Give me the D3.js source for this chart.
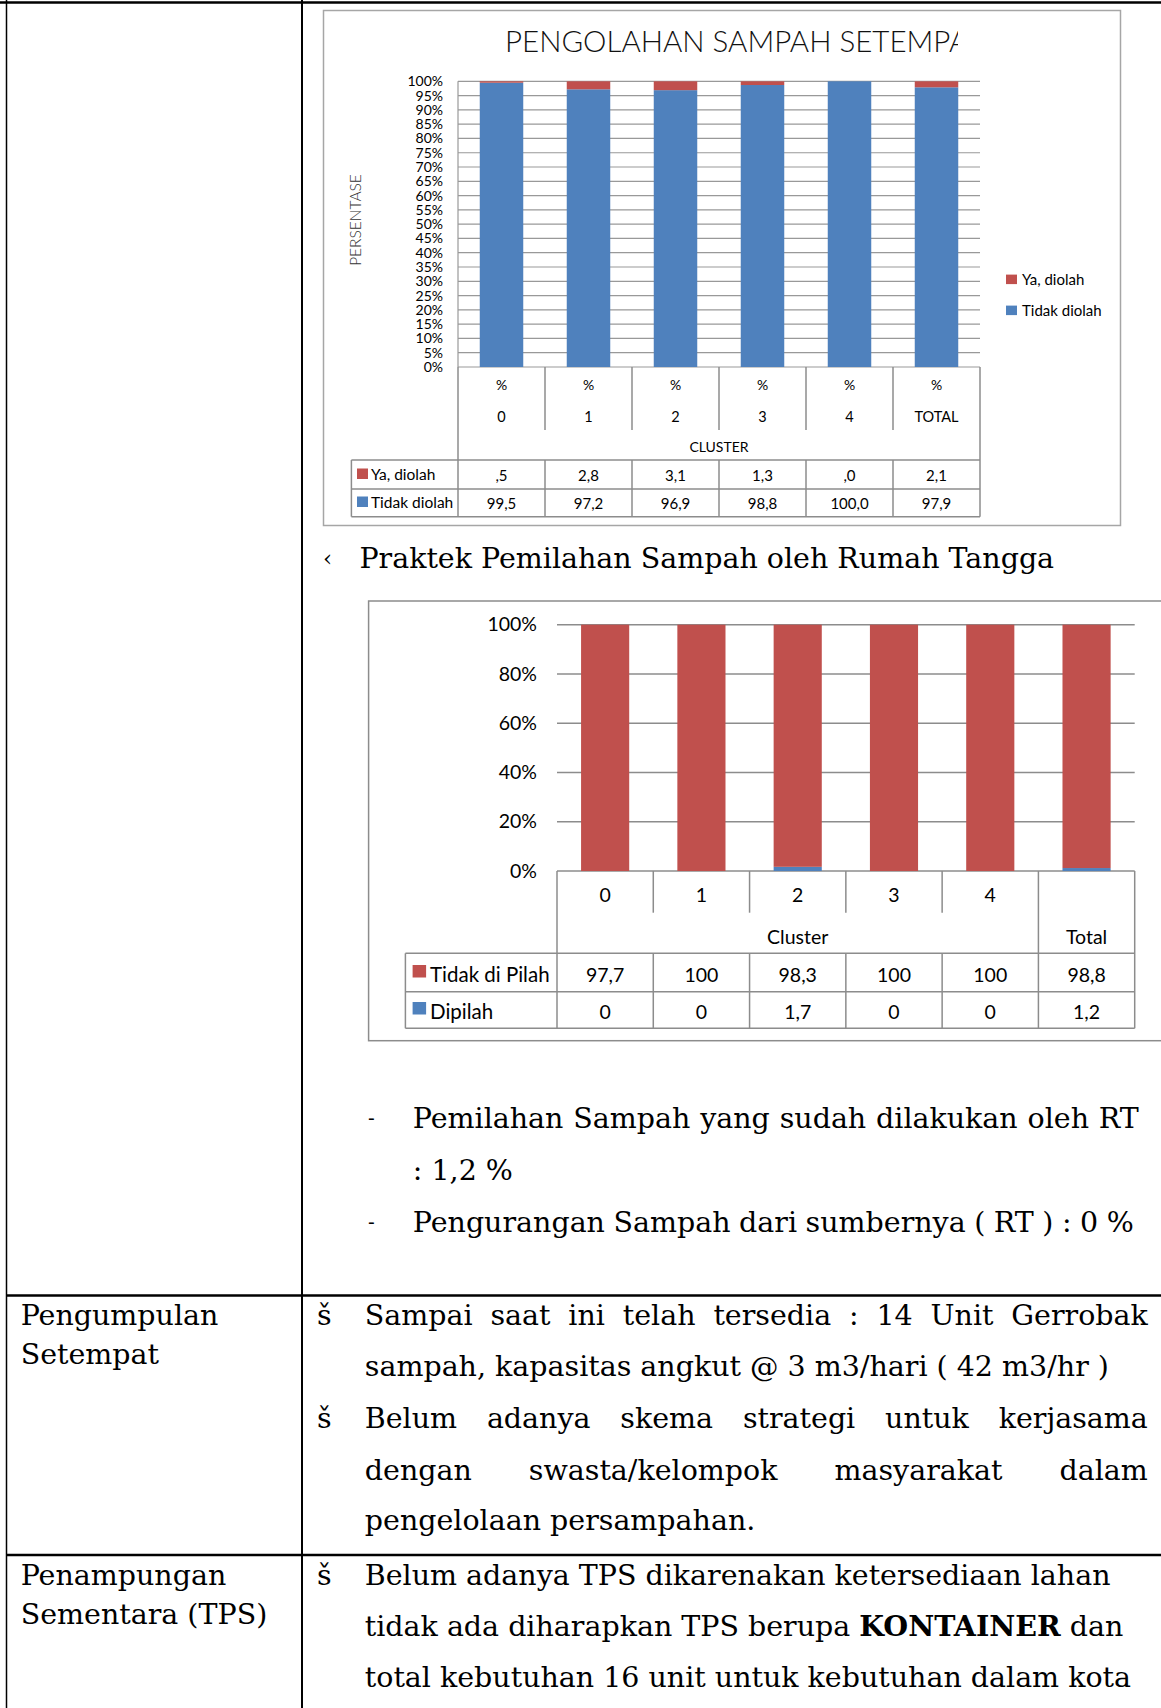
<!DOCTYPE html>
<html>
<head>
<meta charset="utf-8">
<script src="https://cdn.jsdelivr.net/npm/d3@7"></script>
<style>
body { margin: 0; background: #fff; }
svg { display: block; }
</style>
</head>
<body>
<div id="page"></div>
<script>
// chart 1 : pengolahan sampah setempat
var clusters1 = ["0", "1", "2", "3", "4", "TOTAL"];
var yaDiolah = [0.5, 2.8, 3.1, 1.3, 0.0, 2.1];
var tidakDiolah = [99.5, 97.2, 96.9, 98.8, 100.0, 97.9];
var ticks1 = [0, 5, 10, 15, 20, 25, 30, 35, 40, 45, 50, 55, 60, 65, 70, 75, 80, 85, 90, 95, 100];

// chart 2 : praktek pemilahan sampah
var clusters2 = ["0", "1", "2", "3", "4", "Total"];
var tidakDiPilah = [97.7, 100, 98.3, 100, 100, 98.8];
var dipilah = [0, 0, 1.7, 0, 0, 1.2];
var ticks2 = [0, 20, 40, 60, 80, 100];

var red = "#C0504D", blue = "#4F81BD";
var chartFont = "Lato, 'Open Sans', sans-serif";
var bodyFont = "'DejaVu Serif', 'Liberation Serif', serif";

var svg = d3.select("#page").append("svg")
    .attr("width", 1161)
    .attr("height", 1708);

svg.append("rect").attr("width", 1161).attr("height", 1708).attr("fill", "#fff");

function fmt1(v) {
  return v.toFixed(1).replace(".", ",").replace(/^0,/, ",");
}
function fmt2(v) {
  return String(v).replace(".", ",");
}

// ---------- document table lines ----------
var tline = svg.append("g").attr("stroke", "#000");
tline.append("line").attr("x1", 0).attr("y1", 2.5).attr("x2", 1161).attr("y2", 2.5).attr("stroke-width", 2.5);
tline.append("line").attr("x1", 6.5).attr("y1", 0).attr("x2", 6.5).attr("y2", 1708).attr("stroke-width", 1.5);
tline.append("line").attr("x1", 302).attr("y1", 0).attr("x2", 302).attr("y2", 1708).attr("stroke-width", 2);
tline.append("line").attr("x1", 6).attr("y1", 1295.5).attr("x2", 1161).attr("y2", 1295.5).attr("stroke-width", 2.5);
tline.append("line").attr("x1", 6).attr("y1", 1555).attr("x2", 1161).attr("y2", 1555).attr("stroke-width", 2.5);

// ---------- chart 1 ----------
var c1 = svg.append("g");
c1.append("rect")
  .attr("x", 323.5).attr("y", 10.5).attr("width", 797).attr("height", 515)
  .attr("fill", "#fff").attr("stroke", "#a6a6a6").attr("stroke-width", 1.5);

c1.append("clipPath").attr("id", "titleclip")
  .append("rect").attr("x", 323).attr("y", 10).attr("width", 635).attr("height", 60);
c1.append("text")
  .attr("clip-path", "url(#titleclip)")
  .attr("x", 505).attr("y", 51.5)
  .attr("font-family", chartFont).attr("font-weight", 300)
  .attr("font-size", 29.5).attr("fill", "#111")
  .text("PENGOLAHAN SAMPAH SETEMPAT");

var x1 = d3.scaleBand().domain(clusters1).range([458, 980]).paddingInner(0.5).paddingOuter(0.25);
var y1 = d3.scaleLinear().domain([0, 100]).range([367, 81.3]);

c1.append("g").selectAll("line").data(ticks1).join("line")
  .attr("x1", 458).attr("x2", 980)
  .attr("y1", d => y1(d)).attr("y2", d => y1(d))
  .attr("stroke", "#999").attr("stroke-width", 1.2);

var rows1 = clusters1.map((c, i) => ({ c: c, tidak: tidakDiolah[i], ya: yaDiolah[i] }));
var stack1 = d3.stack().keys(["tidak", "ya"]).offset(d3.stackOffsetExpand)(rows1);
var col1 = { tidak: blue, ya: red };
c1.append("g").selectAll("g").data(stack1).join("g")
  .attr("fill", d => col1[d.key])
  .selectAll("rect").data(d => d).join("rect")
  .attr("x", d => x1(d.data.c))
  .attr("width", x1.bandwidth())
  .attr("y", d => y1(d[1] * 100))
  .attr("height", d => y1(d[0] * 100) - y1(d[1] * 100));

c1.append("line").attr("x1", 458).attr("x2", 458).attr("y1", 81.3).attr("y2", 367)
  .attr("stroke", "#999").attr("stroke-width", 1.2);

var ax1 = c1.append("g").attr("transform", "translate(443,0)")
  .call(d3.axisLeft(y1).tickValues(ticks1).tickSize(0).tickPadding(0).tickFormat(d => d + "%"));
ax1.select(".domain").remove();
ax1.selectAll("text").attr("font-family", chartFont).attr("font-size", 14).attr("fill", "#000");

c1.append("text")
  .attr("transform", "translate(361,220) rotate(-90)")
  .attr("text-anchor", "middle")
  .attr("font-family", chartFont).attr("font-weight", 300).attr("font-size", 15.5).attr("fill", "#333")
  .text("PERSENTASE");

// legend chart 1
var leg1 = [{ k: "Ya, diolah", c: red, y: 279.6 }, { k: "Tidak diolah", c: blue, y: 310.6 }];
c1.append("g").selectAll("rect").data(leg1).join("rect")
  .attr("x", 1006).attr("y", d => d.y - 5).attr("width", 11).attr("height", 9.5).attr("fill", d => d.c);
c1.append("g").selectAll("text").data(leg1).join("text")
  .attr("x", 1022).attr("y", d => d.y).attr("dy", "0.35em")
  .attr("font-family", chartFont).attr("font-size", 15).text(d => d.k);

// data table chart 1
var tg1 = c1.append("g").attr("stroke", "#8c8c8c").attr("stroke-width", 1.5);
var bounds1 = clusters1.map(c => x1(c) - x1.step() * 0.25).concat([980]);
tg1.selectAll(".v").data(bounds1).join("line")
  .attr("x1", d => d).attr("x2", d => d)
  .attr("y1", 367).attr("y2", (d, i) => (i == 0 || i == bounds1.length - 1) ? 516.7 : 430);
tg1.selectAll(".v2").data(bounds1.slice(1, -1)).join("line")
  .attr("x1", d => d).attr("x2", d => d).attr("y1", 460).attr("y2", 516.7);
tg1.selectAll(".h").data([460, 489, 516.7]).join("line")
  .attr("x1", 351.4).attr("x2", 980).attr("y1", d => d).attr("y2", d => d);
tg1.append("line").attr("x1", 351.4).attr("x2", 351.4).attr("y1", 460).attr("y2", 516.7);

var tt1 = c1.append("g").attr("font-family", chartFont).attr("text-anchor", "middle").attr("fill", "#000");
tt1.selectAll(".p").data(clusters1).join("text")
  .attr("x", d => x1(d) + x1.bandwidth() / 2).attr("y", 385).attr("dy", "0.35em")
  .attr("font-size", 14).text("%");
tt1.selectAll(".c").data(clusters1).join("text")
  .attr("x", d => x1(d) + x1.bandwidth() / 2).attr("y", 416.7).attr("dy", "0.35em")
  .attr("font-size", 14.5).text(d => d);
tt1.append("text").attr("x", 719).attr("y", 446.7).attr("dy", "0.35em")
  .attr("font-size", 14).text("CLUSTER");
tt1.selectAll(".ya").data(yaDiolah).join("text")
  .attr("x", (d, i) => x1(clusters1[i]) + x1.bandwidth() / 2).attr("y", 475.5).attr("dy", "0.35em")
  .attr("font-size", 15).text(d => fmt1(d));
tt1.selectAll(".td").data(tidakDiolah).join("text")
  .attr("x", (d, i) => x1(clusters1[i]) + x1.bandwidth() / 2).attr("y", 503.5).attr("dy", "0.35em")
  .attr("font-size", 15).text(d => fmt1(d));

var rk1 = [{ k: "Ya, diolah", c: red, y: 475 }, { k: "Tidak diolah", c: blue, y: 503 }];
c1.append("g").selectAll("rect").data(rk1).join("rect")
  .attr("x", 357).attr("y", d => d.y - 6.5).attr("width", 11).attr("height", 10.5).attr("fill", d => d.c);
c1.append("g").selectAll("text").data(rk1).join("text")
  .attr("x", 371).attr("y", d => d.y).attr("dy", "0.35em")
  .attr("font-family", chartFont).attr("font-size", 15.5).text(d => d.k);

// ---------- chart 2 ----------
var c2 = svg.append("g");
c2.append("rect")
  .attr("x", 368.6).attr("y", 601).attr("width", 800).attr("height", 439.7)
  .attr("fill", "#fff").attr("stroke", "#8c8c8c").attr("stroke-width", 1.5);

var x2 = d3.scaleBand().domain(clusters2).range([557, 1134.7]).paddingInner(0.5).paddingOuter(0.25);
var y2 = d3.scaleLinear().domain([0, 100]).range([871, 624.7]);

c2.append("g").selectAll("line").data(ticks2).join("line")
  .attr("x1", 557).attr("x2", 1134.7)
  .attr("y1", d => y2(d)).attr("y2", d => y2(d))
  .attr("stroke", "#8c8c8c").attr("stroke-width", 1.5);

var rows2 = clusters2.map((c, i) => ({ c: c, tidak: tidakDiPilah[i], dipilah: dipilah[i] }));
var stack2 = d3.stack().keys(["dipilah", "tidak"]).offset(d3.stackOffsetExpand)(rows2);
var col2 = { tidak: red, dipilah: blue };
c2.append("g").selectAll("g").data(stack2).join("g")
  .attr("fill", d => col2[d.key])
  .selectAll("rect").data(d => d).join("rect")
  .attr("x", d => x2(d.data.c))
  .attr("width", x2.bandwidth())
  .attr("y", d => y2(d[1] * 100))
  .attr("height", d => y2(d[0] * 100) - y2(d[1] * 100));

var ax2 = c2.append("g").attr("transform", "translate(537,0)")
  .call(d3.axisLeft(y2).tickValues(ticks2).tickSize(0).tickPadding(0).tickFormat(d => d + "%"));
ax2.select(".domain").remove();
ax2.selectAll("text").attr("font-family", chartFont).attr("font-size", 19.5).attr("fill", "#000");

var tg2 = c2.append("g").attr("stroke", "#8c8c8c").attr("stroke-width", 1.5);
var bounds2 = clusters2.map(c => x2(c) - x2.step() * 0.25).concat([1134.7]);
tg2.selectAll(".v").data(bounds2).join("line")
  .attr("x1", d => d).attr("x2", d => d)
  .attr("y1", 871).attr("y2", (d, i) => (i == 0 || i >= bounds2.length - 2) ? 1028.3 : 912.7);
tg2.selectAll(".v2").data(bounds2.slice(1, -2)).join("line")
  .attr("x1", d => d).attr("x2", d => d).attr("y1", 953.3).attr("y2", 1028.3);
tg2.selectAll(".h").data([953.3, 991.7, 1028.3]).join("line")
  .attr("x1", 405.4).attr("x2", 1134.7).attr("y1", d => d).attr("y2", d => d);
tg2.append("line").attr("x1", 405.4).attr("x2", 405.4).attr("y1", 953.3).attr("y2", 1028.3);

var tt2 = c2.append("g").attr("font-family", chartFont).attr("text-anchor", "middle").attr("fill", "#000").attr("font-size", 19.5);
tt2.selectAll(".c").data(clusters2.slice(0, 5)).join("text")
  .attr("x", d => x2(d) + x2.bandwidth() / 2).attr("y", 895).attr("dy", "0.35em").text(d => d);
tt2.append("text").attr("x", (bounds2[0] + bounds2[5]) / 2).attr("y", 936.7).attr("dy", "0.35em").text("Cluster");
tt2.append("text").attr("x", x2("Total") + x2.bandwidth() / 2).attr("y", 936.7).attr("dy", "0.35em").text(clusters2[5]);
tt2.selectAll(".td").data(tidakDiPilah).join("text")
  .attr("x", (d, i) => x2(clusters2[i]) + x2.bandwidth() / 2).attr("y", 975).attr("dy", "0.35em").text(d => fmt2(d));
tt2.selectAll(".dp").data(dipilah).join("text")
  .attr("x", (d, i) => x2(clusters2[i]) + x2.bandwidth() / 2).attr("y", 1011.7).attr("dy", "0.35em").text(d => fmt2(d));

var rk2 = [{ k: "Tidak di Pilah", c: red, y: 973 }, { k: "Dipilah", c: blue, y: 1010 }];
c2.append("g").selectAll("rect").data(rk2).join("rect")
  .attr("x", 412.6).attr("y", d => d.y - 8).attr("width", 13.5).attr("height", 12.5).attr("fill", d => d.c);
c2.append("g").selectAll("text").data(rk2).join("text")
  .attr("x", 430).attr("y", d => d.y + 2).attr("dy", "0.35em")
  .attr("font-family", chartFont).attr("font-size", 20.5).text(d => d.k);

// ---------- body text ----------
var body = svg.append("g").attr("font-family", bodyFont).attr("fill", "#000");

// fit font size to the heading line width
var probe = body.append("text").attr("font-size", 24).text("Praktek Pemilahan Sampah oleh Rumah Tangga");
var fs = 24 * 695 / probe.node().getComputedTextLength();
probe.remove();
body.attr("font-size", fs);

function put(x, y, str) {
  return body.append("text").attr("x", x).attr("y", y).attr("dy", "0.36em").text(str);
}

// justified line: spread the words so the line spans the given width
function justify(x, y, str, width) {
  var words = str.split(" ");
  var t = body.append("text").attr("y", y).attr("dy", "0.36em");
  var spans = words.map(w => t.append("tspan").text(w));
  var ws = spans.map(s => s.node().getComputedTextLength());
  var gap = (width - d3.sum(ws)) / (words.length - 1);
  var cx = x;
  spans.forEach((s, i) => { s.attr("x", cx); cx += ws[i] + gap; });
  return t;
}

put(323, 557.6, "‹").attr("font-size", fs * 0.8);
put(359.4, 557.6, "Praktek Pemilahan Sampah oleh Rumah Tangga");

put(368, 1117.5, "-").attr("font-size", fs * 0.7);
justify(412.8, 1117.5, "Pemilahan Sampah yang sudah dilakukan oleh RT", 726);
put(412.8, 1169.7, ": 1,2 %");
put(368, 1222, "-").attr("font-size", fs * 0.7);
justify(412.8, 1222, "Pengurangan Sampah dari sumbernya ( RT ) : 0 %", 721);

put(20.7, 1314.6, "Pengumpulan");
put(20.7, 1353.8, "Setempat");
put(317, 1314.6, "š");
justify(364.8, 1314.6, "Sampai saat ini telah tersedia : 14 Unit Gerrobak", 783);
put(364.8, 1365.7, "sampah, kapasitas angkut @ 3 m3/hari ( 42 m3/hr )");
put(317, 1418, "š");
justify(364.8, 1418, "Belum adanya skema strategi untuk kerjasama", 783);
justify(364.8, 1470, "dengan swasta/kelompok masyarakat dalam", 783);
put(364.8, 1520, "pengelolaan persampahan.");

put(20.7, 1574.8, "Penampungan");
put(20.7, 1614, "Sementara (TPS)");
put(317, 1574.8, "š");
put(364.8, 1574.8, "Belum adanya TPS dikarenakan ketersediaan lahan");
var ln = put(364.8, 1626, "tidak ada diharapkan TPS berupa ");
ln.append("tspan").attr("font-weight", "bold").text("KONTAINER");
ln.append("tspan").text(" dan");
put(364.8, 1677, "total kebutuhan 16 unit untuk kebutuhan dalam kota");
</script>
</body>
</html>
